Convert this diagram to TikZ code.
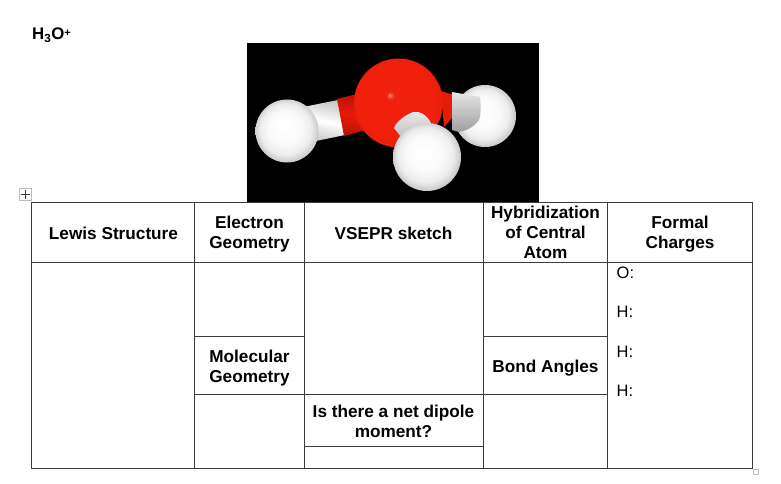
\documentclass[tikz,border=0pt]{standalone}
\usepackage{fontspec}
\setmainfont{Liberation Sans}
\usepackage{xcolor}

\definecolor{tableline}{HTML}{3C3C3C}
\definecolor{boxgrey}{HTML}{BDBDBD}
\definecolor{oxred}{HTML}{F0200C}
\definecolor{oxdark}{HTML}{B81204}
\definecolor{bondred}{HTML}{E81A08}

\pgfdeclareradialshading{redball}{\pgfpoint{-5bp}{4.5bp}}{
  color(0bp)=(oxred!45!white);
  color(1.3bp)=(oxred!85!white);
  color(2.6bp)=(oxred);
  color(21bp)=(oxred);
  color(27bp)=(oxred!85!oxdark);
  color(32bp)=(oxdark)}
\pgfdeclareradialshading{whiteball}{\pgfpoint{-3bp}{4bp}}{
  color(0bp)=(white);
  color(13bp)=(white!98!black);
  color(20bp)=(white!93!black);
  color(25bp)=(white!80!black);
  color(31bp)=(white!52!black)}

\tikzset{
  celltext/.style={inner sep=0pt,align=center,font=\fontsize{17.2}{19.8}\selectfont\bfseries},
  charge/.style={inner sep=0pt,anchor=west,font=\fontsize{16.5}{19}\selectfont},
  handle/.style={rectangle,draw=boxgrey,fill=white,inner sep=0pt},
  rule/.style={draw=tableline,line width=0.9pt}
}

\begin{document}
\begin{tikzpicture}[x=1pt,y=-1pt]
\useasboundingbox (0,0) rectangle (781,483);

% molecule picture
\fill[black] (246.5,42.5) rectangle (538.5,202);
\fill[bondred] (441,91) -- (454,95) -- (454,116) -- (444,127) -- cycle;
\shade[shading=whiteball] (485,116) circle (31);
\shade[top color=white!90!black,bottom color=white!62!black] (452,92) -- (480,97) .. controls (481,105) and (481,115) .. (479,120) .. controls (473,128) and (465,131) .. (459,132) -- (452,130) -- cycle;
\shade[top color=white!78!black,bottom color=white!78!black,middle color=white,shading angle=-12] (303,107) -- (338,100) -- (345,135) -- (311,142) -- cycle;
\shade[top color=oxdark,bottom color=oxdark,middle color=bondred,shading angle=-12] (337,99) -- (357,94) -- (366,130) -- (344,136) -- cycle;
\shade[shading=redball] (398.5,103) circle (44.5);
\shade[shading=whiteball] (287,131) circle (31.5);
\shade[top color=white!92!black,bottom color=white!72!black] (394,128) .. controls (396,122) and (405,115) .. (413,112) .. controls (420,111) and (426,114) .. (431,123) -- (405,142) -- cycle;
\shade[shading=whiteball] (427,157) circle (34);

\draw[rule] (31.5,202.5) rectangle (752.5,468);
\draw[rule] (31.5,262) -- (752.5,262);
\draw[rule] (194.5,202.5) -- (194.5,468);
\draw[rule] (304.5,202.5) -- (304.5,468);
\draw[rule] (483.5,202.5) -- (483.5,468);
\draw[rule] (607.5,202.5) -- (607.5,468);
\draw[rule] (194.5,336.5) -- (304.5,336.5);
\draw[rule] (194.5,394.5) -- (483.5,394.5);
\draw[rule] (483.5,336.5) -- (607.5,336.5);
\draw[rule] (483.5,394.5) -- (607.5,394.5);
\draw[rule] (304.5,446.5) -- (483.5,446.5);

\path
(32,35) node(title) [inner sep=0pt,anchor=west,font=\fontsize{16.8}{19}\selectfont\bfseries] {H\textsubscript{3}O\raisebox{3.5pt}{\fontsize{11}{11}\selectfont +}}
(113.5,233) node(lewis) [celltext] {Lewis Structure}
(249.5,234) node(electron) [celltext] {Electron\\Geometry}
(393.5,233) node(vsepr) [celltext] {VSEPR sketch}
(545.5,232.5) node(hybrid) [celltext] {Hybridization\\of Central\\Atom}
(680,234) node(formal) [celltext] {Formal\\Charges}
(249.5,368) node(molecular) [celltext] {Molecular\\Geometry}
(393.5,421) node(dipole) [celltext] {Is there a net dipole\\moment?}
(545.5,368.5) node(bond) [celltext] {Bond Angles}
(616.5,273) node(oxygen) [charge] {O:}
(616.5,311.5) node(hone) [charge] {H:}
(616.5,351.5) node(htwo) [charge] {H:}
(616.5,390.5) node(hthree) [charge] {H:};

% table handles
\path
(25,194.5) node(movebox) [handle,minimum size=12] {}
(755.5,471.5) node(sizebox) [handle,minimum size=5] {};
\draw[tableline,line width=0.6pt] (20.5,194.5) -- (29.5,194.5);
\draw[tableline,line width=0.6pt] (25,190) -- (25,199);
\end{tikzpicture}
\end{document}
